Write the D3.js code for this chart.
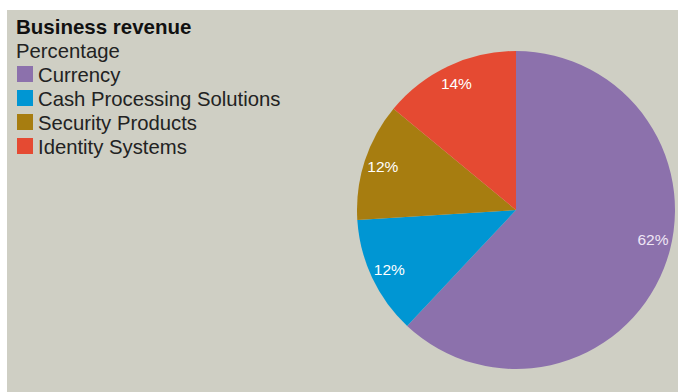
<!DOCTYPE html>
<html>
<head>
<meta charset="utf-8">
<script src="https://cdn.jsdelivr.net/npm/d3@7"></script>
<style>
  html, body { margin: 0; padding: 0; background: #ffffff; }
  svg { display: block; }
  text { font-family: "Liberation Sans", Arial, Helvetica, sans-serif; }
</style>
</head>
<body>
<svg id="chart" width="678" height="392"></svg>
<script>
// Business revenue split, percentage share per segment
const categories = ["Currency", "Cash Processing Solutions", "Security Products", "Identity Systems"];
const shares = [62, 12, 12, 14];
const colors = ["#8c71ac", "#0096d3", "#a77d10", "#e54a32"];
const title = "Business revenue";
const subtitle = "Percentage";

const svg = d3.select("#chart");
const W = 678, H = 392;

// background panel
svg.append("rect")
  .attr("x", 7).attr("y", 10)
  .attr("width", W - 7).attr("height", H - 10)
  .attr("fill", "#cfcfc4");

// title block
svg.append("text")
  .attr("x", 16).attr("y", 34)
  .attr("font-size", 20.5).attr("font-weight", "bold")
  .attr("fill", "#111").text(title);
svg.append("text")
  .attr("x", 16).attr("y", 58)
  .attr("font-size", 20.3).attr("fill", "#222").text(subtitle);

// legend
const legend = svg.append("g").attr("transform", "translate(17,82)");
const rows = legend.selectAll("g").data(categories).join("g")
  .attr("transform", (d, i) => `translate(0,${i * 24})`);
rows.append("rect")
  .attr("x", 0).attr("y", -16).attr("width", 16).attr("height", 16)
  .attr("fill", (d, i) => colors[i]);
rows.append("text")
  .attr("x", 21).attr("y", 0)
  .attr("font-size", 20.3).attr("fill", "#222")
  .text(d => d);

// pie
const cx = 516, cy = 210, radius = 159;
const data = categories.map((c, i) => ({ name: c, value: shares[i], color: colors[i] }));
const pie = d3.pie().sort(null).value(d => d.value);
const arc = d3.arc().innerRadius(0).outerRadius(radius);
const arcs = pie(data);

const g = svg.append("g").attr("transform", `translate(${cx},${cy})`);
g.selectAll("path").data(arcs).join("path")
  .attr("d", arc)
  .attr("fill", d => d.data.color);

// value labels: placed along each slice's mid-angle; the large slice's label is nudged upward
const labelRadius = 140;
const angleNudge = d => (d.endAngle - d.startAngle > Math.PI ? -0.168 : 0);
g.selectAll("text.val").data(arcs).join("text")
  .attr("class", "val")
  .attr("transform", d => {
    const a = (d.startAngle + d.endAngle) / 2 + angleNudge(d);
    const [x, y] = d3.pointRadial(a, labelRadius);
    return `translate(${x},${y})`;
  })
  .attr("text-anchor", "middle")
  .attr("dominant-baseline", "central")
  .attr("font-size", 15.5)
  .attr("fill", (d, i) => i === 0 ? "#efe6f5" : "#ffffff")
  .text(d => d.data.value + "%");
</script>
</body>
</html>
